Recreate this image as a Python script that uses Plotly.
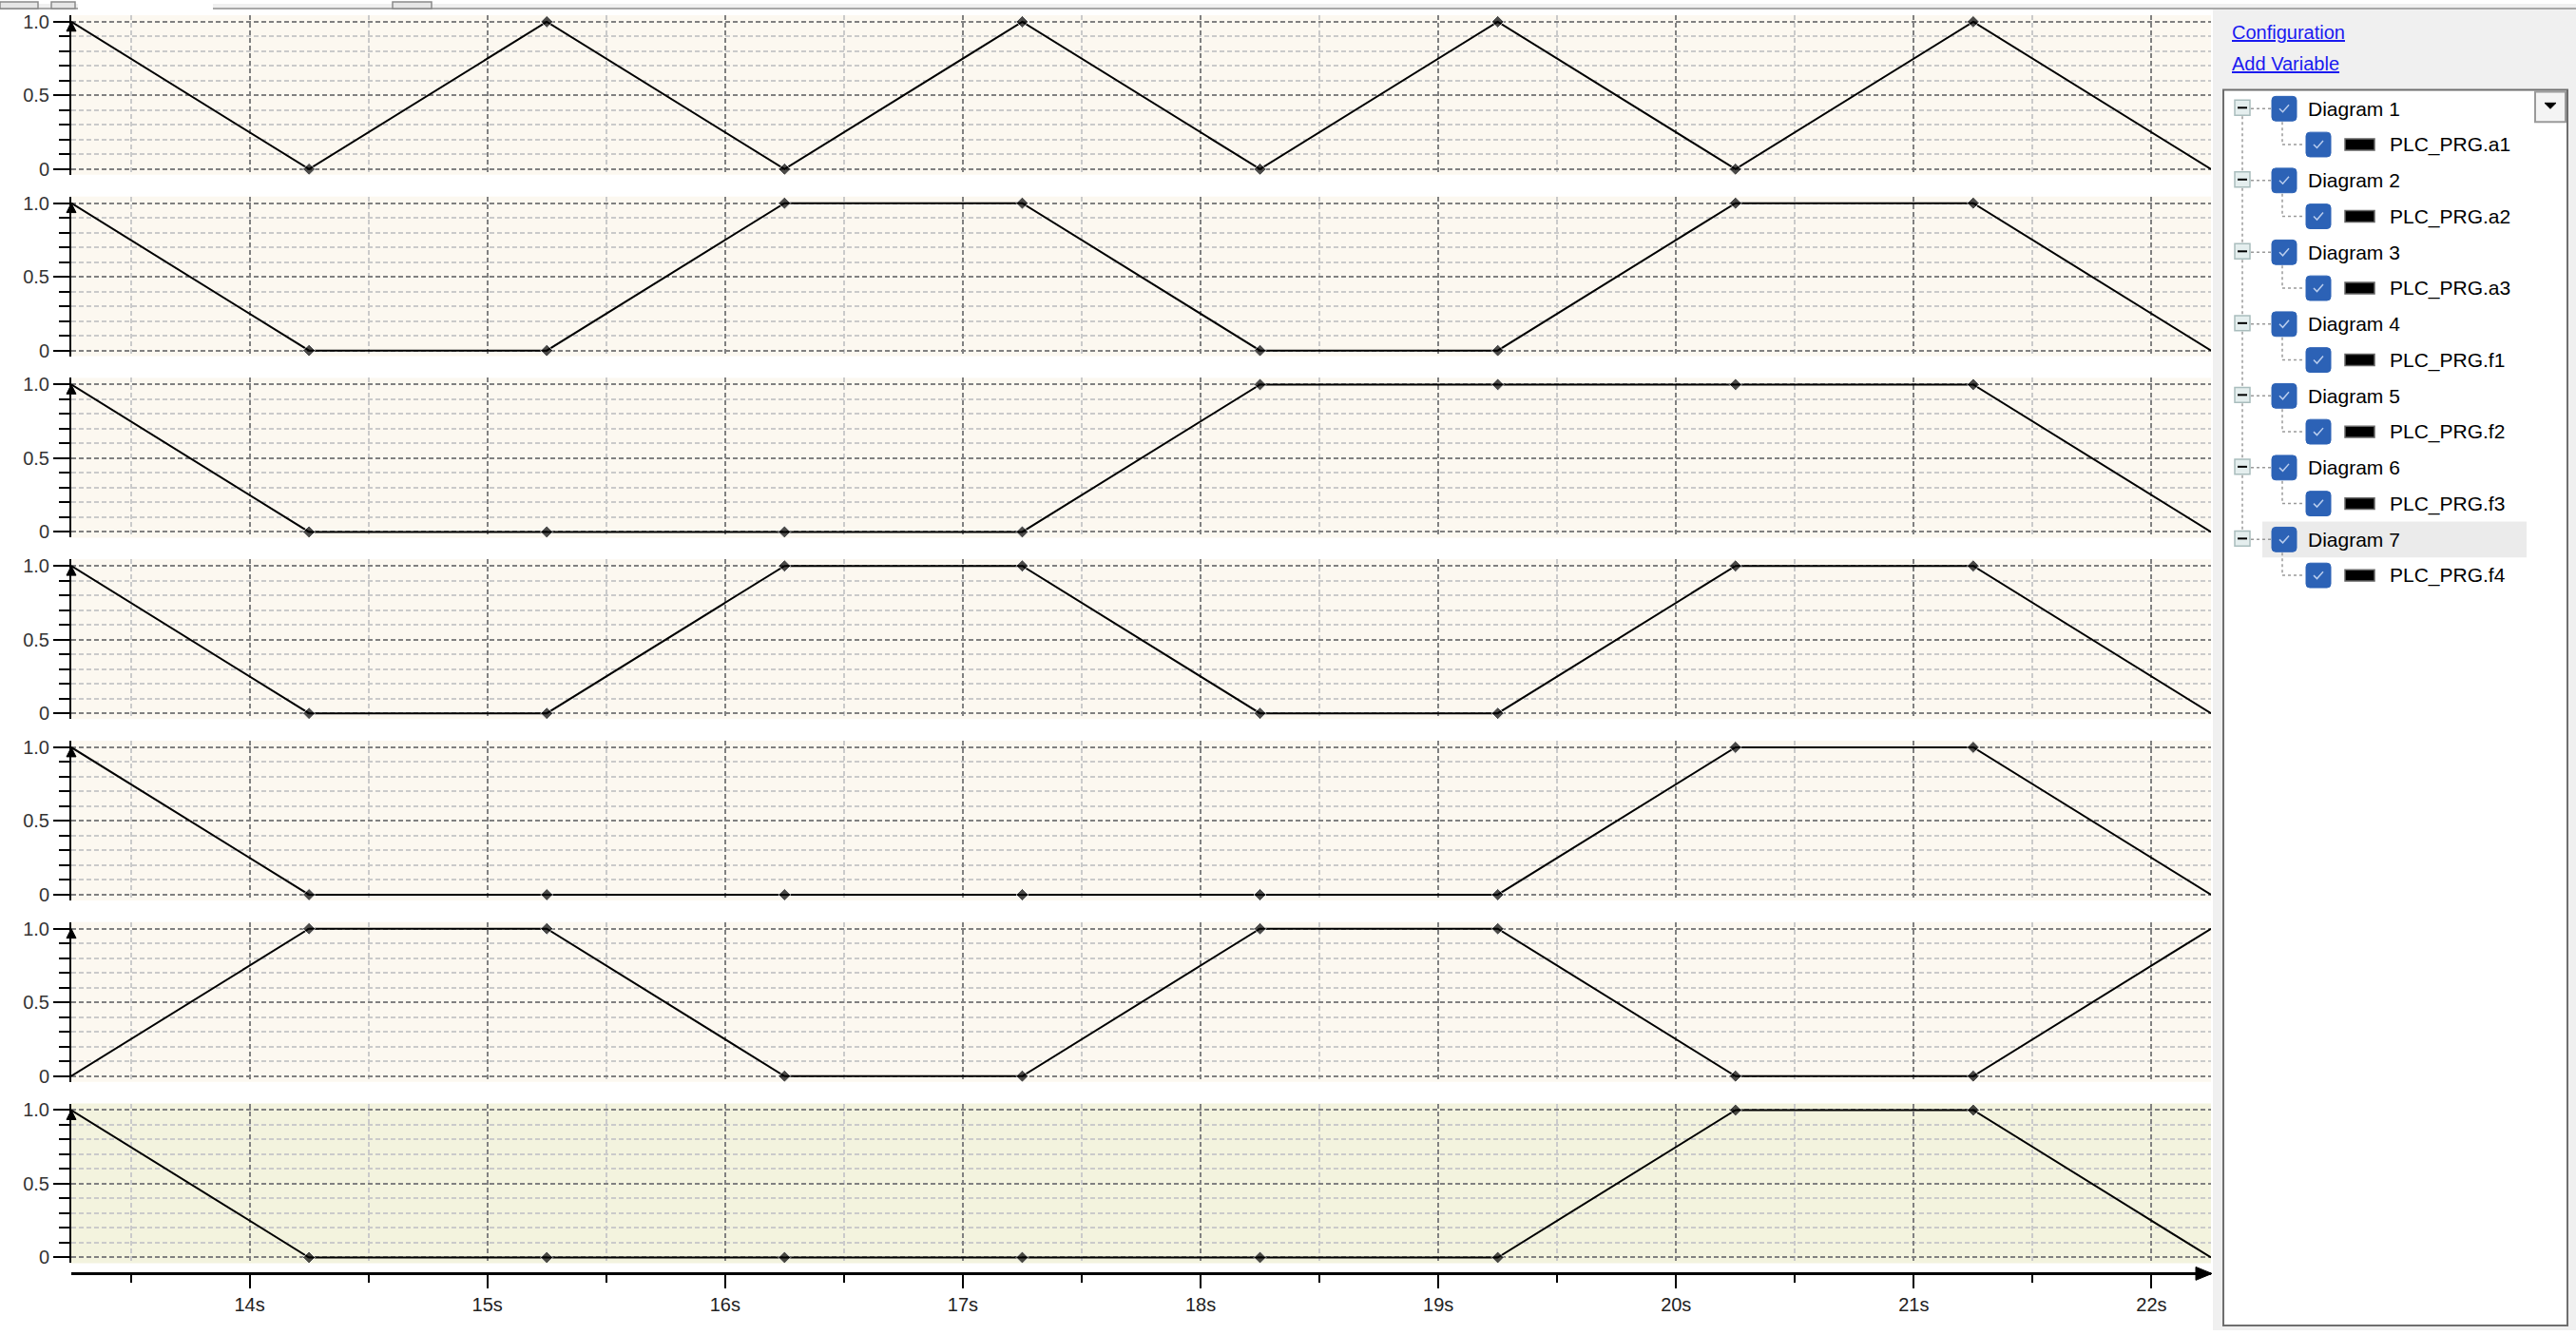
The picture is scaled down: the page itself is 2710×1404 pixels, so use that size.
import plotly.graph_objects as go

W, H = 2710, 1404

# ---------------- data ----------------
time_s = [13.25, 14.25, 15.25, 16.25, 17.25, 18.25, 19.25, 20.25, 21.25, 22.25]
a1 = [1, 0, 1, 0, 1, 0, 1, 0, 1, 0]
a2 = [1, 0, 0, 1, 1, 0, 0, 1, 1, 0]
a3 = [1, 0, 0, 0, 0, 1, 1, 1, 1, 0]
f1 = [1, 0, 0, 1, 1, 0, 0, 1, 1, 0]
f2 = [1, 0, 0, 0, 0, 0, 0, 1, 1, 0]
f3 = [0, 1, 1, 0, 0, 1, 1, 0, 0, 1]
f4 = [1, 0, 0, 0, 0, 0, 0, 1, 1, 0]

diagram_names = ["Diagram 1", "Diagram 2", "Diagram 3", "Diagram 4",
                 "Diagram 5", "Diagram 6", "Diagram 7"]
variable_names = ["PLC_PRG.a1", "PLC_PRG.a2", "PLC_PRG.a3", "PLC_PRG.f1",
                  "PLC_PRG.f2", "PLC_PRG.f3", "PLC_PRG.f4"]
series = [a1, a2, a3, f1, f2, f3, f4]

x_range = [13.25, 22.25]
y_tickvals = [0, 0.5, 1.0]
y_ticktext = ["0", "0.5", "1.0"]

# ---------------- style ----------------
FONT = "Liberation Sans"
BG = "#FCF8F0"
BG_LAST = "#F3F3DE"
GRID_MAJ = "#808080"
GRID_MIN = "#CACACA"
DASH = "5px,3px"
PLOT_L, PLOT_R = 75, 2326
PANEL_H, PANEL_STEP, PANEL_TOP0 = 169, 192, 12


def px(x):
    return x / W


def py(y):
    return 1 - y / H


fig = go.Figure()
shapes = []
annotations = []
layout = {}

n = len(series)
marker_sizes = [0] + [10] * (len(time_s) - 2) + [0]

for i in range(n):
    k = i + 1
    xa = "x" if k == 1 else f"x{k}"
    ya = "y" if k == 1 else f"y{k}"
    T = PANEL_TOP0 + PANEL_STEP * i
    fig.add_trace(go.Scatter(
        x=time_s, y=series[i], xaxis=xa, yaxis=ya, mode="lines+markers",
        line=dict(color="black", width=2),
        marker=dict(symbol="diamond", size=marker_sizes, color="black"),
        showlegend=False, hoverinfo="skip"))
    layout["xaxis" if k == 1 else f"xaxis{k}"] = dict(
        domain=[px(PLOT_L), px(PLOT_R)], range=x_range, anchor=ya,
        showgrid=True, gridcolor=GRID_MAJ, griddash=DASH, gridwidth=2,
        tick0=0, dtick=1, showticklabels=False, ticks="", zeroline=False,
        showline=False, fixedrange=True,
        minor=dict(tick0=0, dtick=0.5, showgrid=True, gridcolor=GRID_MIN,
                   griddash=DASH, gridwidth=2))
    layout["yaxis" if k == 1 else f"yaxis{k}"] = dict(
        domain=[py(T + PANEL_H), py(T)], range=[-6 / 156, 1 + 7 / 156],
        anchor=xa, tickmode="array", tickvals=y_tickvals, ticktext=y_ticktext,
        ticks="outside", ticklen=17, tickwidth=2, tickcolor="black",
        showline=True, linecolor="black", linewidth=2,
        showgrid=True, gridcolor=GRID_MAJ, griddash=DASH, gridwidth=2,
        zeroline=False, fixedrange=True,
        tickfont=dict(family=FONT, size=20, color="#333333"),
        minor=dict(tickmode="linear", tick0=0, dtick=0.1, ticks="outside",
                   ticklen=11, tickwidth=2, tickcolor="black", showgrid=True,
                   gridcolor=GRID_MIN, griddash=DASH, gridwidth=2))
    # panel background
    shapes.append(dict(type="rect", xref=f"{xa} domain", yref=f"{ya} domain",
                       x0=0, x1=1, y0=0, y1=1, layer="below",
                       fillcolor=BG_LAST if k == n else BG,
                       line=dict(width=0)))
    # y axis arrow
    ax = PLOT_L
    shapes.append(dict(type="path", xref="paper", yref="paper",
                       path=f"M {px(ax-5)} {py(T+17)} L {px(ax)} {py(T+7)} L {px(ax+5)} {py(T+17)} Z",
                       fillcolor="black", line=dict(color="black", width=1),
                       layer="above"))

# bottom time axis (free, below last panel)
fig.add_trace(go.Scatter(x=[], y=[], xaxis="x8", yaxis="y7",
                         showlegend=False, hoverinfo="skip"))
layout["xaxis8"] = dict(
    overlaying="x7", anchor="free", position=py(1344), side="bottom",
    range=x_range, showline=True, linecolor="black", linewidth=3,
    ticks="outside", ticklen=14, tickwidth=2, tickcolor="black",
    tick0=0, dtick=1, ticksuffix="s", showgrid=False, zeroline=False,
    fixedrange=True, tickfont=dict(family=FONT, size=20, color="#222222"),
    minor=dict(tick0=0, dtick=0.5, ticks="outside", ticklen=8, tickwidth=2,
               tickcolor="black", showgrid=False))
# x-axis arrow
shapes.append(dict(type="path", xref="paper", yref="paper",
                   path=f"M {px(2310)} {py(1337)} L {px(2327)} {py(1344)} L {px(2310)} {py(1351)} Z",
                   fillcolor="black", line=dict(color="black", width=1), layer="above"))

# ---------------- top strip (toolbar remnant) ----------------
shapes.append(dict(type="rect", xref="paper", yref="paper", x0=0, x1=1,
                   y0=py(4), y1=1, fillcolor="#F0F0F0", line=dict(width=0), layer="above"))
shapes.append(dict(type="line", xref="paper", yref="paper", x0=0, x1=1,
                   y0=py(5), y1=py(5), line=dict(color="#A8A8A8", width=2), layer="above"))
for x0, x1 in [(0, 40), (54, 79), (413, 454)]:
    shapes.append(dict(type="rect", xref="paper", yref="paper", x0=px(x0), x1=px(x1),
                       y0=py(5), y1=py(-2), fillcolor="#E6E6E6",
                       line=dict(color="#8A8A8A", width=1.5), layer="above"))
shapes.append(dict(type="rect", xref="paper", yref="paper", x0=px(82), x1=px(224),
                   y0=py(6), y1=py(-1), fillcolor="white", line=dict(width=0), layer="above"))

# ---------------- side panel ----------------
SP_L = 2328
shapes.append(dict(type="rect", xref="paper", yref="paper", x0=px(SP_L), x1=1,
                   y0=0, y1=py(6), fillcolor="#F0F0F0", line=dict(width=0), layer="above"))
for txt, yy in [("Configuration", 30), ("Add Variable", 63)]:
    annotations.append(dict(xref="paper", yref="paper", x=px(2346), y=py(yy),
                            xanchor="left", yanchor="middle", showarrow=False,
                            text=f"<u>{txt}</u>",
                            font=dict(family=FONT, size=20, color="#1A1AF0")))
# tree box
shapes.append(dict(type="rect", xref="paper", yref="paper", x0=px(2339), x1=px(2701),
                   y0=py(1399), y1=py(91), fillcolor="white",
                   line=dict(color="#6E6E6E", width=2), layer="above"))
# dropdown button
shapes.append(dict(type="rect", xref="paper", yref="paper", x0=px(2667), x1=px(2699),
                   y0=py(125), y1=py(93), fillcolor="#F4F4F4",
                   line=dict(color="#9A9A9A", width=2), layer="above"))
shapes.append(dict(type="path", xref="paper", yref="paper",
                   path=f"M {px(2677)} {py(105)} L {px(2689)} {py(105)} L {px(2683)} {py(111)} Z",
                   fillcolor="black", line=dict(color="black", width=1), layer="above"))
# highlight of last diagram row
last_y = 111 + 76 * (n - 1)
shapes.append(dict(type="rect", xref="paper", yref="paper", x0=px(2380), x1=px(2658),
                   y0=py(last_y + 19), y1=py(last_y - 19), fillcolor="#EBEBEB",
                   line=dict(width=0), layer="above"))

DOT = dict(color="#9A9A9A", width=1.5, dash="dot")
CHK = "#2C62B6"


def checkbox(cx, cy):
    s = 13
    r = 4
    p = (f"M {px(cx-s+r)} {py(cy-s)} L {px(cx+s-r)} {py(cy-s)} "
         f"Q {px(cx+s)} {py(cy-s)} {px(cx+s)} {py(cy-s+r)} "
         f"L {px(cx+s)} {py(cy+s-r)} Q {px(cx+s)} {py(cy+s)} {px(cx+s-r)} {py(cy+s)} "
         f"L {px(cx-s+r)} {py(cy+s)} Q {px(cx-s)} {py(cy+s)} {px(cx-s)} {py(cy+s-r)} "
         f"L {px(cx-s)} {py(cy-s+r)} Q {px(cx-s)} {py(cy-s)} {px(cx-s+r)} {py(cy-s)} Z")
    shapes.append(dict(type="path", xref="paper", yref="paper", path=p,
                       fillcolor=CHK, line=dict(color=CHK, width=1), layer="above"))
    shapes.append(dict(type="path", xref="paper", yref="paper",
                       path=f"M {px(cx-5)} {py(cy)} L {px(cx-1.5)} {py(cy+3.5)} L {px(cx+5)} {py(cy-4)}",
                       line=dict(color="#B9CDEE", width=1.5), layer="above"))


for i in range(n):
    yd = 111 + 76 * i
    yv = yd + 38
    # connectors
    if i < n - 1:
        shapes.append(dict(type="line", xref="paper", yref="paper",
                           x0=px(2359), x1=px(2359), y0=py(yd + 8), y1=py(yd + 76 - 9),
                           line=DOT, layer="above"))
    shapes.append(dict(type="line", xref="paper", yref="paper",
                       x0=px(2368), x1=px(2389), y0=py(yd), y1=py(yd), line=DOT, layer="above"))
    shapes.append(dict(type="line", xref="paper", yref="paper",
                       x0=px(2401), x1=px(2401), y0=py(yd + 14), y1=py(yv), line=DOT, layer="above"))
    shapes.append(dict(type="line", xref="paper", yref="paper",
                       x0=px(2401), x1=px(2425), y0=py(yv), y1=py(yv), line=DOT, layer="above"))
    # minus box
    shapes.append(dict(type="rect", xref="paper", yref="paper",
                       x0=px(2351), x1=px(2367), y0=py(yd + 7), y1=py(yd - 9),
                       fillcolor="#E4EEEE", line=dict(color="#A9BDBD", width=1.5), layer="above"))
    shapes.append(dict(type="line", xref="paper", yref="paper",
                       x0=px(2354), x1=px(2364), y0=py(yd - 1), y1=py(yd - 1),
                       line=dict(color="black", width=2), layer="above"))
    checkbox(2403, yd)
    checkbox(2439, yv)
    # colour swatch
    shapes.append(dict(type="rect", xref="paper", yref="paper",
                       x0=px(2467), x1=px(2498), y0=py(yv + 6), y1=py(yv - 6),
                       fillcolor="black", line=dict(color="#666666", width=1.5), layer="above"))
    annotations.append(dict(xref="paper", yref="paper", x=px(2426), y=py(yd),
                            xanchor="left", yanchor="middle", showarrow=False,
                            text=diagram_names[i],
                            font=dict(family=FONT, size=21, color="black")))
    annotations.append(dict(xref="paper", yref="paper", x=px(2512), y=py(yv),
                            xanchor="left", yanchor="middle", showarrow=False,
                            text=variable_names[i],
                            font=dict(family=FONT, size=21, color="black")))

fig.update_layout(
    width=W, height=H, margin=dict(l=0, r=0, t=0, b=0, pad=0),
    paper_bgcolor="white", plot_bgcolor="rgba(0,0,0,0)",
    showlegend=False, shapes=shapes, annotations=annotations,
    font=dict(family=FONT), **layout)

fig.write_html("out.html", config={"displayModeBar": False},
               post_script="document.body.style.margin='0';"
                           "document.body.style.overflow='hidden';")
